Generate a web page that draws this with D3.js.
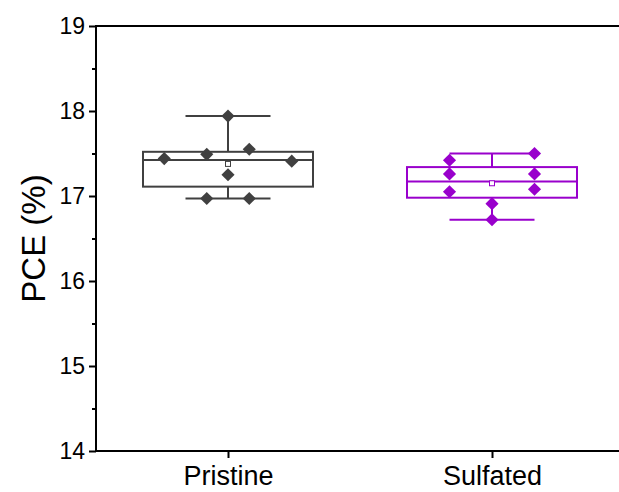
<!DOCTYPE html>
<html>
<head>
<meta charset="utf-8">
<script src="https://cdn.jsdelivr.net/npm/d3@7"></script>
<style>
  body { margin: 0; background: #fff; }
  text { font-family: "Liberation Sans", Arial, sans-serif; fill: #000; }
</style>
</head>
<body>
<svg width="619" height="492"></svg>
<script>
var categories = ["Pristine", "Sulfated"];
var pristine = [17.94, 17.44, 17.49, 17.55, 17.41, 17.25, 16.97, 16.97];
var sulfated = [17.42, 17.50, 17.26, 17.26, 17.05, 17.08, 16.91, 16.72];
var colors = ["#404040", "#9900cc"];
var yTicks = [14, 15, 16, 17, 18, 19];

var svg = d3.select("svg"),
    margin = {left: 96, right: -5, top: 26, bottom: 41},
    width = 619 - margin.left - margin.right,
    height = 492 - margin.top - margin.bottom,
    g = svg.append("g").attr("transform", "translate(" + margin.left + "," + margin.top + ")");

var x = d3.scalePoint().domain(categories).range([0, width]).padding(0.5);
var y = d3.scaleLinear().domain([14, 19]).range([height, 0]);

var boxW = 170;

// frame
g.append("rect")
    .attr("width", width).attr("height", height)
    .attr("fill", "none").attr("stroke", "#000").attr("stroke-width", 2);

// axes
var yAxis = g.append("g")
    .call(d3.axisLeft(y).tickValues(yTicks).tickSize(7).tickPadding(4).tickFormat(d3.format("d")));
yAxis.selectAll(".tick text").style("font-size", "23px");
var yMinor = g.append("g")
    .call(d3.axisLeft(y).tickValues(d3.range(14.5, 19, 1)).tickSize(4).tickFormat(""));
var xAxis = g.append("g").attr("transform", "translate(0," + height + ")")
    .call(d3.axisBottom(x).tickSize(7).tickPadding(8));
xAxis.selectAll(".tick text").style("font-size", "27px");
[yAxis, yMinor, xAxis].forEach(function(a) {
    a.select(".domain").remove();
    a.selectAll(".tick line").attr("stroke", "#000").attr("stroke-width", 2);
});

svg.append("text")
    .attr("transform", "translate(45," + (margin.top + height / 2) + ") rotate(-90)")
    .attr("text-anchor", "middle")
    .style("font-size", "33px")
    .text("PCE (%)");

// boxes
var series = [pristine, sulfated];
series.forEach(function(vals, i) {
    var cx = x(categories[i]), col = colors[i];
    var s = vals.slice().sort(d3.ascending), n = s.length;
    var med = d3.median(s),
        q1 = d3.median(s.slice(0, Math.floor(n / 2))),
        q3 = d3.median(s.slice(Math.ceil(n / 2))),
        lo = s[0], hi = s[n - 1], mean = d3.mean(s);
    var bg = g.append("g").attr("stroke", col).attr("fill", "none").attr("stroke-width", 2);
    bg.append("line").attr("x1", cx).attr("x2", cx).attr("y1", y(hi)).attr("y2", y(q3));
    bg.append("line").attr("x1", cx).attr("x2", cx).attr("y1", y(q1)).attr("y2", y(lo));
    bg.append("line").attr("x1", cx - boxW / 4).attr("x2", cx + boxW / 4).attr("y1", y(hi)).attr("y2", y(hi));
    bg.append("line").attr("x1", cx - boxW / 4).attr("x2", cx + boxW / 4).attr("y1", y(lo)).attr("y2", y(lo));
    bg.append("rect").attr("x", cx - boxW / 2).attr("width", boxW)
        .attr("y", y(q3)).attr("height", y(q1) - y(q3));
    bg.append("line").attr("x1", cx - boxW / 2).attr("x2", cx + boxW / 2).attr("y1", y(med)).attr("y2", y(med));
    bg.append("rect").attr("x", cx - 2.5).attr("y", y(mean) - 2.5).attr("width", 5).attr("height", 5)
        .attr("stroke-width", 1).attr("fill", "#fff");

    // points spread inside bins of 0.2
    var bins = d3.group(vals.map(function(v, k) { return {v: v, k: k}; }),
        function(d) { return Math.floor(d.v * 5 + 1e-6); });
    var maxCount = d3.max(Array.from(bins.values()), function(b) { return b.length; });
    var step = boxW / maxCount;
    var pts = [];
    bins.forEach(function(b) {
        b.forEach(function(d, j) { pts.push({v: d.v, dx: (j - (b.length - 1) / 2) * step}); });
    });
    g.selectAll(null).data(pts).enter().append("path")
        .attr("d", d3.symbol(d3.symbolDiamond2, 110))
        .attr("transform", function(d) { return "translate(" + (cx + d.dx) + "," + y(d.v) + ")"; })
        .attr("fill", col);
});
</script>
</body>
</html>
